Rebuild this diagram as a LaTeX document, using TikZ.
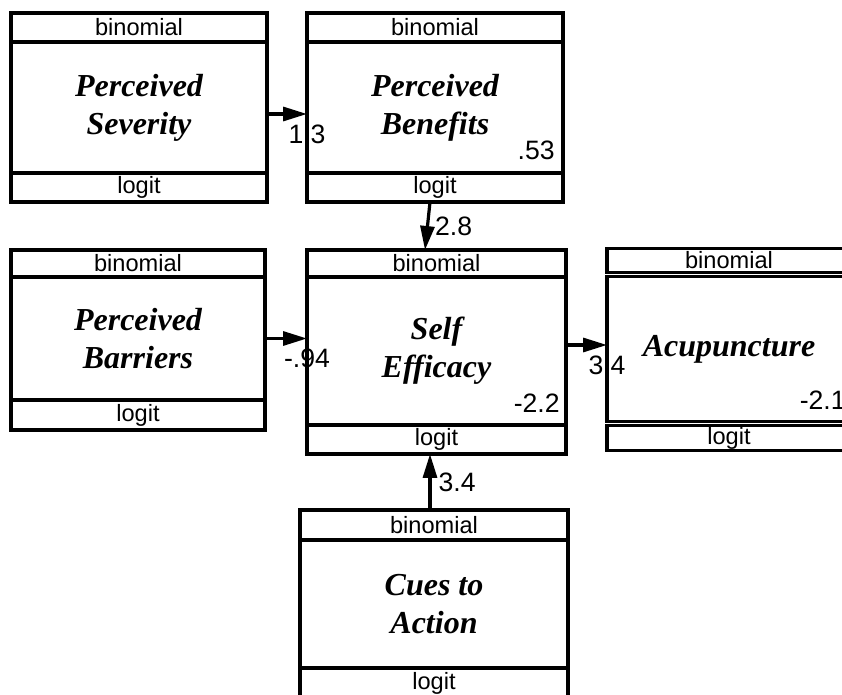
\documentclass[tikz,border=0pt]{standalone}
\usepackage{fontspec}
\setmainfont{Liberation Serif}
\setsansfont{Liberation Sans}
\usetikzlibrary{positioning,arrows.meta,calc}

\begin{document}
\begin{tikzpicture}[
    x=0.5pt, y=-0.5pt,
    body/.style={rectangle, draw, line width=1.6pt, inner sep=0pt, outer sep=0pt, align=center, font=\fontsize{16}{19}\selectfont\bfseries\itshape},
    row/.style={rectangle, draw, line width=1.6pt, inner sep=0pt, outer sep=0pt, minimum height=14.5pt, font=\sffamily\fontsize{11.8}{14}\selectfont},
    est/.style={inner sep=0pt, font=\sffamily\fontsize{13.3}{16}\selectfont},
    arrow/.style={-{Triangle[length=12pt,width=7pt]}, line width=1.6pt}
]
\useasboundingbox (0,0) rectangle (842,695);
\clip (0,0) rectangle (842,695);
\fill[white] (0,0) rectangle (842,695);

% Variables
\node[body, minimum width=128pt, minimum height=65.5pt] (sev) at (139,107.5) {Perceived\\Severity};
\node[row, minimum width=128pt, above=0pt of sev] (sev-dist) {binomial};
\node[row, minimum width=128pt, below=0pt of sev] (sev-link) {logit};

\node[body, minimum width=128pt, minimum height=65.5pt] (ben) at (435,107.5) {Perceived\\Benefits};
\node[row, minimum width=128pt, above=0pt of ben] (ben-dist) {binomial};
\node[row, minimum width=128pt, below=0pt of ben] (ben-link) {logit};

\node[body, minimum width=127pt, minimum height=61.5pt] (bar) at (138,338.5) {Perceived\\Barriers};
\node[row, minimum width=127pt, minimum height=13.5pt, above=0pt of bar] (bar-dist) {binomial};
\node[row, minimum width=127pt, minimum height=15pt, below=0pt of bar] (bar-link) {logit};

\node[body, minimum width=129.5pt, minimum height=74pt] (self) at (436.5,351) {Self\\Efficacy};
\node[row, minimum width=129.5pt, minimum height=13.5pt, above=0pt of self] (self-dist) {binomial};
\node[row, minimum width=129.5pt, below=0pt of self] (self-link) {logit};

\node[body, minimum width=122pt, minimum height=72.5pt] (acu) at (729,349) {Acupuncture};
\node[row, minimum width=122pt, minimum height=12pt, above=2.1pt of acu] (acu-dist) {binomial};
\node[row, minimum width=122pt, minimum height=12.5pt, below=2.1pt of acu] (acu-link) {logit};

\node[body, minimum width=134pt, minimum height=64pt] (cues) at (434,604) {Cues to\\Action};
\node[row, minimum width=134pt, minimum height=15pt, above=0pt of cues] (cues-dist) {binomial};
\node[row, minimum width=134pt, minimum height=15pt, below=0pt of cues] (cues-link) {logit};

% Intercepts
\node[est, anchor=south east] (ben-int) at ([xshift=-4pt,yshift=6.5pt]ben.south east) {.53};
\node[est, anchor=south east] (self-int) at ([xshift=-3pt,yshift=6pt]self.south east) {-2.2};
\node[est, anchor=south east] (acu-int) at ([xshift=-2.5pt,yshift=6pt]acu.south east) {-2.1};

% Paths
\draw[arrow] ($(sev.east)+(0,6.5)$) -- ($(ben.west)+(0,6.5)$) node[est, below=4.5pt] (w-sev) {1.3};
\draw[arrow] (bar.east) -- (bar.east -| self.west) node[est, below=4.5pt] (w-bar) {-.94};
\draw[arrow] ($(acu.west -| self.east)+(0,-4)$) -- ($(acu.west)+(0,-4)$) node[est, below=4.5pt] (w-self) {3.4};
\draw[arrow] ($(ben-link.south)+(-5,0)$) -- node[est, right=3pt] (w-ben) {2.8} ($(self-dist.north)+(-11.5,0)$);
\draw[arrow] ($(cues-dist.north)+(-4,0)$) -- node[est, right=3.5pt] (w-cues) {3.4} ($(self-link.south)+(-6.5,0)$);

\end{tikzpicture}
\end{document}
